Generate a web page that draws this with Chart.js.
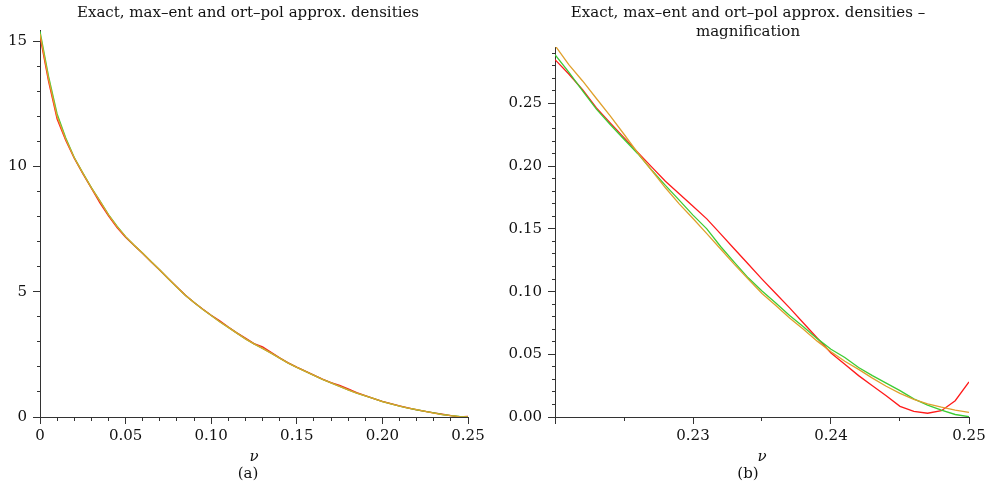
<!DOCTYPE html>
<html><head><meta charset="utf-8">
<script src="https://cdn.jsdelivr.net/npm/chart.js@4"></script>
<style>
html,body{margin:0;padding:0;background:#fff;overflow:hidden;width:989px;height:486px;}
#wa{position:absolute;left:0;top:0;width:496px;height:486px;}
#wb{position:absolute;left:502px;top:0;width:492px;height:486px;}
</style></head><body>
<div id="wa"><canvas id="ca"></canvas></div>
<div id="wb"><canvas id="cb"></canvas></div>
<script>
// ---- panel (a): full range ----
const nuFull = [0,0.005,0.01,0.015,0.02,0.025,0.03,0.035,0.04,0.045,0.05,0.055,0.06,0.065,0.07,0.075,0.08,0.085,0.09,0.095,0.1,0.105,0.11,0.115,0.12,0.125,0.13,0.135,0.14,0.145,0.15,0.155,0.16,0.165,0.17,0.175,0.18,0.185,0.19,0.195,0.2,0.205,0.21,0.215,0.22,0.225,0.23,0.235,0.24,0.245,0.25];
const exactFull  = [15.2,13.4,11.9,11.05,10.33,9.72,9.14,8.55,8.03,7.56,7.18,6.85,6.53,6.19,5.86,5.52,5.19,4.86,4.57,4.31,4.06,3.84,3.59,3.36,3.15,2.93,2.8,2.58,2.36,2.16,1.99,1.83,1.67,1.51,1.37,1.26,1.12,0.97,0.85,0.73,0.62,0.53,0.44,0.36,0.285,0.223,0.168,0.110,0.051,0.0085,0.028];
const maxentFull = [15.4,13.6,12.1,11.15,10.36,9.75,9.16,8.63,8.08,7.62,7.2,6.86,6.54,6.2,5.87,5.52,5.18,4.85,4.57,4.3,4.05,3.8,3.58,3.35,3.12,2.92,2.74,2.55,2.35,2.15,1.98,1.82,1.66,1.5,1.36,1.22,1.08,0.95,0.84,0.73,0.61,0.52,0.435,0.355,0.289,0.2215,0.161,0.1005,0.054,0.021,0.0002];
const ortpolFull = [15.3,13.5,12.0,11.1,10.35,9.74,9.15,8.62,8.07,7.6,7.2,6.86,6.54,6.2,5.87,5.52,5.18,4.85,4.57,4.3,4.05,3.8,3.58,3.35,3.12,2.92,2.74,2.55,2.35,2.15,1.98,1.82,1.66,1.5,1.36,1.22,1.08,0.95,0.84,0.73,0.61,0.52,0.435,0.355,0.296,0.2255,0.158,0.0985,0.052,0.0188,0.0037];
const xTicksA = ["0","0.05","0.10","0.15","0.20","0.25"];
const yTicksA = ["0","5","10","15"];

// ---- panel (b): magnification ----
const nuMag = [0.22,0.221,0.222,0.223,0.224,0.225,0.226,0.227,0.228,0.229,0.23,0.231,0.232,0.233,0.234,0.235,0.236,0.237,0.238,0.239,0.24,0.241,0.242,0.243,0.244,0.245,0.246,0.247,0.248,0.249,0.25];
const exactMag  = [0.285,0.2735,0.261,0.2465,0.2346,0.2228,0.211,0.1995,0.188,0.178,0.168,0.158,0.146,0.134,0.122,0.110,0.0985,0.087,0.075,0.063,0.051,0.042,0.033,0.025,0.017,0.0085,0.0045,0.003,0.005,0.013,0.028];
const maxentMag = [0.289,0.275,0.260,0.2455,0.2333,0.2215,0.210,0.197,0.1847,0.173,0.161,0.150,0.136,0.1233,0.111,0.1005,0.091,0.081,0.072,0.0625,0.054,0.0475,0.0395,0.033,0.027,0.021,0.0145,0.0095,0.0055,0.002,0.0002];
const ortpolMag = [0.2963,0.281,0.268,0.254,0.2402,0.2255,0.2107,0.1967,0.1828,0.170,0.1583,0.1462,0.134,0.1217,0.110,0.0985,0.089,0.079,0.070,0.0605,0.052,0.0445,0.038,0.031,0.0245,0.0188,0.014,0.0105,0.0078,0.0055,0.0037];
const xTicksB = ["","0.23","0.24","0.25"];
const yTicksB = ["0.00","0.05","0.10","0.15","0.20","0.25"];

const FONT = "'DejaVu Serif', serif";
const TXT = '#111';
const AX = '#333';
const COLORS = {exact:'#ff1a1a', maxent:'#3ccc33', ortpol:'#e0a02c'};

function pts(xs, ys){ return xs.map((x,i)=>({x:x, y:ys[i]})); }
function isMult(v, m){ const r = v/m; return Math.abs(r-Math.round(r)) < 1e-6; }

function datasets(xs, ex, me, op){
  return [
    {label:'ort-pol', data:pts(xs,op), borderColor:COLORS.ortpol, order:0},
    {label:'max-ent', data:pts(xs,me), borderColor:COLORS.maxent, order:1},
    {label:'exact', data:pts(xs,ex), borderColor:COLORS.exact, order:2}
  ].map(d=>Object.assign(d,{borderWidth:1.3, pointRadius:0, tension:0, fill:false}));
}

function labelFrom(list, majors){
  return function(v){
    for (let i=0;i<majors.length;i++){ if (Math.abs(v-majors[i])<1e-9) return list[i]; }
    return '';
  };
}

function makeChart(id, cfg){
  return new Chart(document.getElementById(id), {
    type:'line',
    data:{datasets:cfg.datasets},
    options:{
      responsive:true, maintainAspectRatio:false, animation:false,
      layout:{padding:{left:0,right:0,top:0,bottom:0}},
      plugins:{
        legend:{display:false}, tooltip:{enabled:false},
        title:{display:true, text:cfg.title, color:TXT, font:{family:FONT,size:15,weight:'normal',lineHeight:1.27}, padding:{top:4,bottom:cfg.titleGap}},
        subtitle:{display:true, position:'bottom', text:cfg.sub, color:TXT, font:{family:FONT,size:15,weight:'normal',lineHeight:1.2}, padding:{top:0,bottom:3}}
      },
      scales:{
        x:{type:'linear', min:cfg.xmin, max:cfg.xmax,
          afterFit:(s)=>{ s.paddingRight = cfg.padR; },
          border:{display:true,color:AX,width:1},
          grid:{drawOnChartArea:false, drawTicks:true, tickLength:7, tickColor:AX, tickWidth:1,
            tickBorderDash:(c)=> (c.tick && isMult(c.tick.value - cfg.xmin, cfg.xMajor)) ? [] : [3,30]},
          ticks:{stepSize:cfg.xStep, autoSkip:false, includeBounds:false, maxRotation:0, color:TXT, padding:5,
            font:{family:FONT,size:15,lineHeight:1.0}, callback:labelFrom(cfg.xLabels, cfg.xMajors)},
          title:{display:true, text:'ν', color:TXT, font:{family:FONT,size:15,style:'italic',lineHeight:1.0}, padding:{top:1,bottom:0}}
        },
        y:{type:'linear', min:0, max:cfg.ymax,
          afterFit:(s)=>{ s.width = cfg.yWidth; },
          border:{display:true,color:AX,width:1},
          grid:{drawOnChartArea:false, drawTicks:true, tickLength:7, tickColor:AX, tickWidth:1,
            tickBorderDash:(c)=> (c.tick && isMult(c.tick.value, cfg.yMajor)) ? [] : [0,4,3,30]},
          ticks:{stepSize:cfg.yStep, autoSkip:false, includeBounds:false, color:TXT, padding:6,
            font:{family:FONT,size:15}, callback:labelFrom(cfg.yLabels, cfg.yMajors)}
        }
      }
    }
  });
}

makeChart('ca', {
  datasets:datasets(nuFull, exactFull, maxentFull, ortpolFull),
  title:'Exact, max–ent and ort–pol approx. densities', titleGap:7, sub:'(a)',
  yWidth:40, padR:28,
  xmin:0, xmax:0.25, xStep:0.01, xMajor:0.05, xLabels:xTicksA, xMajors:[0,0.05,0.1,0.15,0.2,0.25],
  ymax:15.45, yStep:1, yMajor:5, yLabels:yTicksA, yMajors:[0,5,10,15]
});
makeChart('cb', {
  datasets:datasets(nuMag, exactMag, maxentMag, ortpolMag),
  title:['Exact, max–ent and ort–pol approx. densities –','magnification'], titleGap:5, sub:'(b)',
  yWidth:53, padR:25,
  xmin:0.22, xmax:0.25, xStep:0.005, xMajor:0.01, xLabels:xTicksB, xMajors:[0.22,0.23,0.24,0.25],
  ymax:0.295, yStep:0.01, yMajor:0.05, yLabels:yTicksB, yMajors:[0,0.05,0.1,0.15,0.2,0.25]
});
</script>
</body></html>
